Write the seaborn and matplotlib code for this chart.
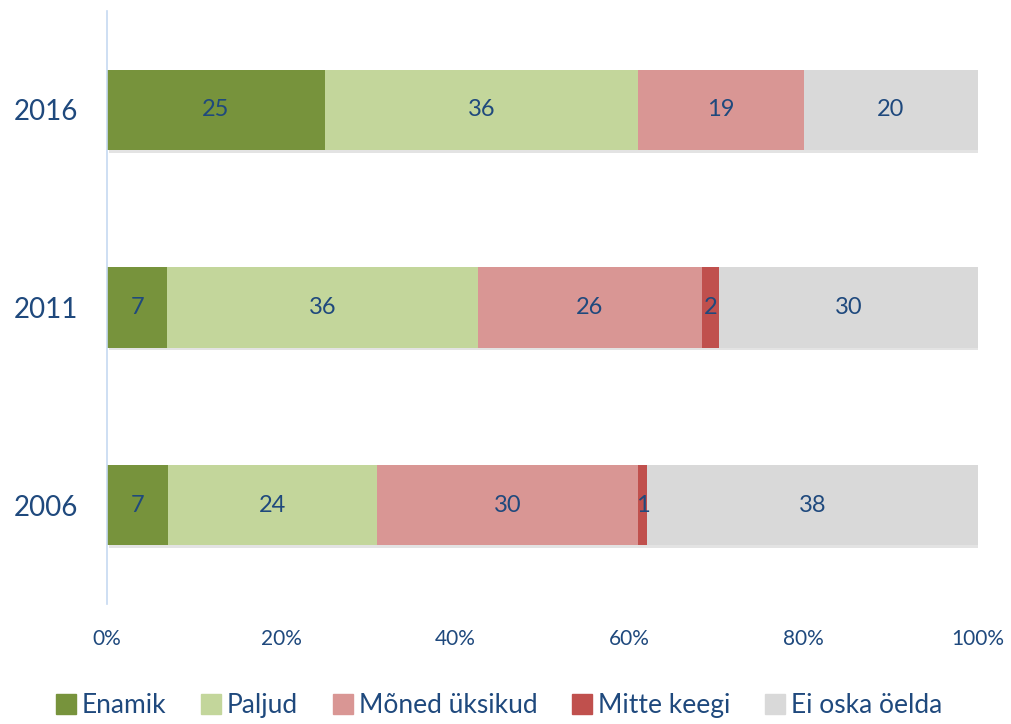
import matplotlib
matplotlib.use("Agg")
import matplotlib.pyplot as plt
import matplotlib.patheffects as pe
from matplotlib.lines import Line2D
import numpy as np
import pandas as pd
import seaborn as sns

years = ["2016", "2011", "2006"]
categories = ["Enamik", "Paljud", "Mõned üksikud", "Mitte keegi", "Ei oska öelda"]
enamik = [25, 7, 7]
paljud = [36, 36, 24]
moned = [19, 26, 30]
mitte = [0, 2, 1]
ei_oska = [20, 30, 38]
colors = ["#77933C", "#C3D69B", "#D99694", "#C0504D", "#D9D9D9"]
text_color = "#1F497D"

sns.set_theme(style="white")
plt.rcParams["font.family"] = ["Lato", "DejaVu Sans"]

series = np.array([enamik, paljud, moned, mitte, ei_oska], dtype=float)
shares = series / series.sum(axis=0) * 100
cum = np.cumsum(shares, axis=0)

fig = plt.figure(figsize=(10.11, 7.24), dpi=100)
ax = fig.add_axes([0.1058, 0.1657, 0.8616, 0.8191])

# 100% stacked bars: draw cumulative totals from the right-most segment inward
for i in range(len(categories) - 1, -1, -1):
    df = pd.DataFrame({"year": years, "value": cum[i]})
    sns.barplot(data=df, x="value", y="year", order=years, orient="y",
                color=colors[i], saturation=1, width=0.405, ax=ax,
                edgecolor="none", linewidth=0)
    if i == len(categories) - 1:
        for p in ax.patches:
            p.set_path_effects([pe.SimplePatchShadow(offset=(1.5, -2), shadow_rgbFace="#808080", alpha=0.22),
                                pe.Normal()])

# segment value labels
for i in range(len(categories)):
    for j, y in enumerate(years):
        v = series[i, j]
        if v <= 0:
            continue
        start = cum[i, j] - shares[i, j]
        ax.text(start + shares[i, j] / 2, j, f"{v:.0f}", ha="center", va="center",
                fontsize=17, color=text_color)

ax.set_xlim(0, 100)
ax.set_ylim(2.5, -0.5)
ax.set_xticks(np.arange(0, 101, 20))
ax.set_xticklabels([f"{t}%" for t in range(0, 101, 20)], fontsize=15, color=text_color)
ax.set_yticks(range(len(years)))
ax.set_yticklabels(years, fontsize=20, color=text_color)
ax.tick_params(axis="x", length=0, pad=18)
ax.tick_params(axis="y", length=0, pad=21)
ax.set_xlabel("")
ax.set_ylabel("")
for s in ["top", "right", "bottom"]:
    ax.spines[s].set_visible(False)
ax.spines["left"].set_color("#C6D9F1")
ax.spines["left"].set_linewidth(1.2)

handles = [Line2D([0], [0], marker="s", linestyle="none", markersize=14,
                  markerfacecolor=c, markeredgecolor=c) for c in colors]
leg = fig.legend(handles, categories, loc="lower center", bbox_to_anchor=(0.492, -0.025),
                 ncol=5, frameon=False, fontsize=19, handletextpad=0.1,
                 columnspacing=1.2, handlelength=1.0)
for t in leg.get_texts():
    t.set_color(text_color)

fig.savefig("out.png", dpi=100)
